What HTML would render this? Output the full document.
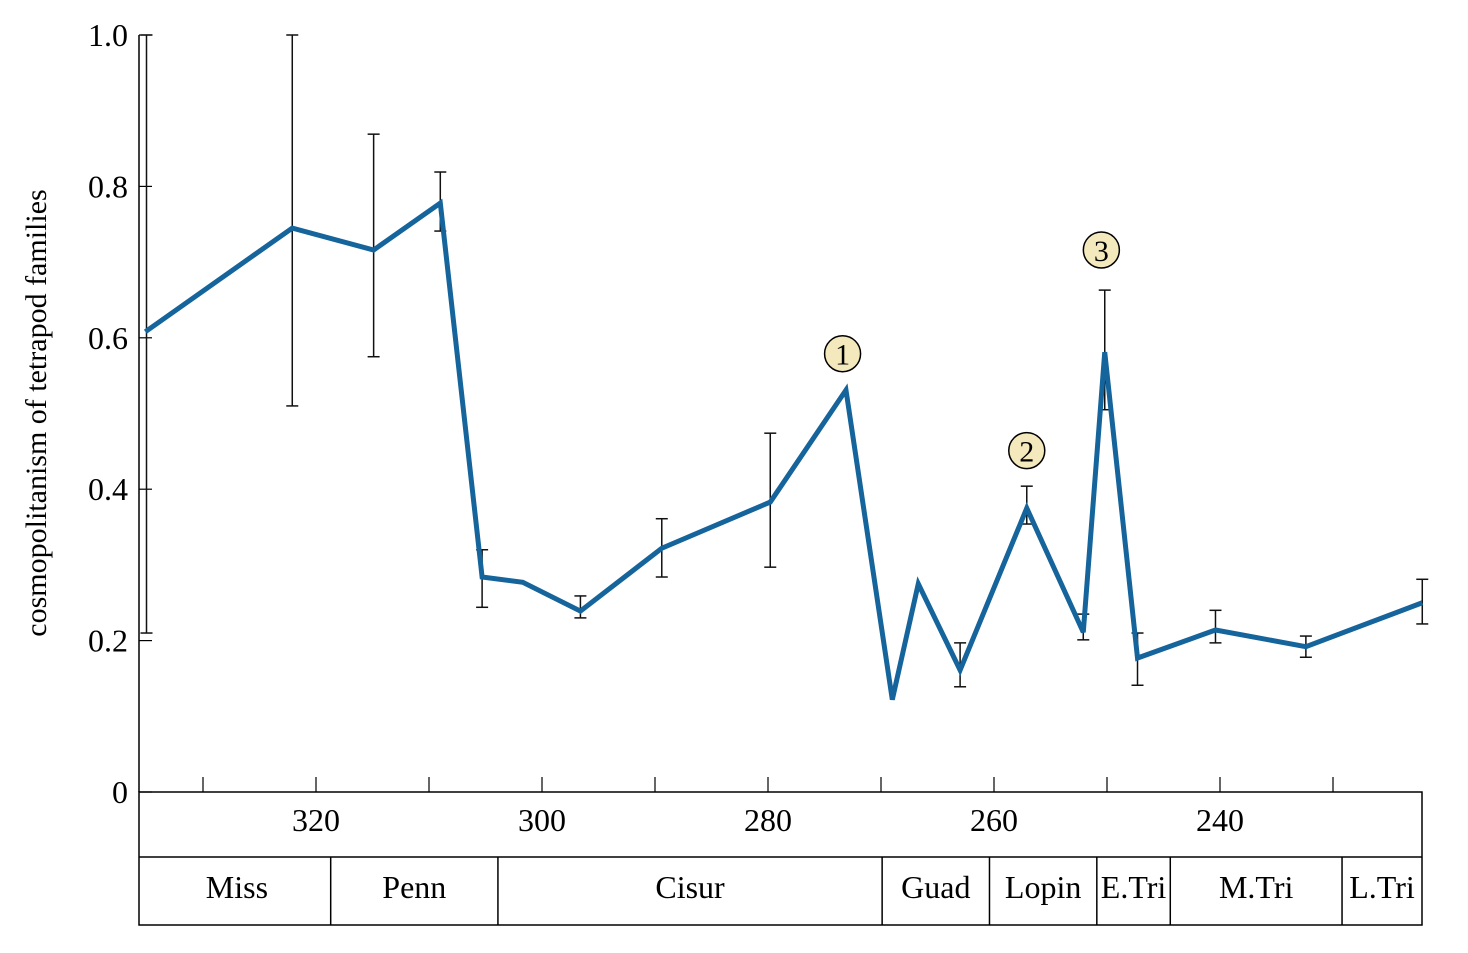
<!DOCTYPE html>
<html><head><meta charset="utf-8"><style>
html,body{margin:0;padding:0;background:#fff;}
svg{display:block;font-family:"Liberation Serif",serif;}
</style></head><body>
<svg id="chart" width="1468" height="953" viewBox="0 0 1468 953">
<g id="axes"></g><g id="bars"></g><g id="series"></g><g id="notes"></g>
</svg>
<script>
const ages=[335.1,322.1,314.9,309.0,305.3,301.7,296.6,289.4,279.8,273.1,269.0,266.7,263.0,257.1,252.1,250.2,247.3,240.4,232.4,222.1];
const values=[0.608,0.745,0.716,0.778,0.284,0.277,0.239,0.322,0.383,0.531,0.122,0.275,0.161,0.375,0.211,0.581,0.177,0.214,0.192,0.250];
const errAges=[335.0,322.1,314.9,309.0,305.3,296.6,289.4,279.8,263.0,257.1,252.1,250.2,247.3,240.4,232.4,222.1];
const errLow=[0.21,0.51,0.575,0.741,0.244,0.230,0.284,0.297,0.139,0.354,0.201,0.505,0.141,0.197,0.178,0.222];
const errHigh=[1.0,1.0,0.869,0.819,0.320,0.259,0.361,0.474,0.197,0.404,0.235,0.663,0.210,0.240,0.206,0.281];
const xTicks=[330,320,310,300,290,280,270,260,250,240,230];
const xLabels=[320,300,280,260,240];
const yTicks=[0,0.2,0.4,0.6,0.8,1.0];
const yTickLabels=["0","0.2","0.4","0.6","0.8","1.0"];
const periodNames=["Miss","Penn","Cisur","Guad","Lopin","E.Tri","M.Tri","L.Tri"];
const periodBounds=[335.3,318.7,303.9,269.9,260.4,250.9,244.4,229.2,222.1];
const noteLabels=["1","2","3"];
const noteAges=[273.4,257.1,250.5];
const noteValues=[0.579,0.451,0.716];
const X=a=>316+(320-a)*11.3;
const Y=v=>792-v*757;
const NS="http://www.w3.org/2000/svg";
function mk(p,t,at,txt){const e=document.createElementNS(NS,t);for(const k in at)e.setAttribute(k,at[k]);if(txt!=null)e.textContent=txt;p.appendChild(e);return e;}
const ax=document.getElementById('axes');
let e=mk(ax,'line',{x1:139,y1:35,x2:139,y2:792,stroke:'#000','stroke-width':1.5});

yTicks.forEach((v,i)=>{
 let t=mk(ax,'line',{x1:139,y1:Y(v),x2:152,y2:Y(v),stroke:'#000','stroke-width':1.2});
 
 let l=mk(ax,'text',{x:128,y:Y(v)+11,'text-anchor':'end','font-size':32},yTickLabels[i]);
 
});
e=mk(ax,'text',{x:46,y:413,'text-anchor':'middle','font-size':30,transform:'rotate(-90 46 413)'},'cosmopolitanism of tetrapod families');

e=mk(ax,'rect',{x:139,y:792,width:1283,height:133,fill:'none',stroke:'#000','stroke-width':1.5});

e=mk(ax,'line',{x1:139,y1:857,x2:1422,y2:857,stroke:'#000','stroke-width':1.5});

xTicks.forEach(a=>{
 let t=mk(ax,'line',{x1:X(a),y1:777,x2:X(a),y2:792,stroke:'#000','stroke-width':1.2});
 
});
xLabels.forEach(a=>{
 let l=mk(ax,'text',{x:X(a),y:831,'text-anchor':'middle','font-size':32},String(a));
 
});
periodNames.forEach((n,i)=>{
 const x0=Math.max(139,X(periodBounds[i])),x1=Math.min(1422,X(periodBounds[i+1]));
 if(i>0){let d=mk(ax,'line',{x1:x0,y1:857,x2:x0,y2:925,stroke:'#000','stroke-width':1.5});
  }
 let l=mk(ax,'text',{x:(x0+x1)/2,y:898,'text-anchor':'middle','font-size':32},n);
 
});
const bg=document.getElementById('bars');
errAges.forEach((a,i)=>{
 const x=X(a),y1=Y(errHigh[i]),y2=Y(errLow[i]);
 let g=mk(bg,'g',{stroke:'#111','stroke-width':1.5});
 
 mk(g,'line',{x1:x,y1:y1,x2:x,y2:y2});
 mk(g,'line',{x1:x-6,y1:y1,x2:x+6,y2:y1});
 mk(g,'line',{x1:x-6,y1:y2,x2:x+6,y2:y2});
});
const sg=document.getElementById('series');
e=mk(sg,'polyline',{points:ages.map((a,i)=>X(a)+','+Y(values[i])).join(' '),fill:'none',stroke:'#15649b','stroke-width':5,'stroke-linejoin':'miter'});

const ng=document.getElementById('notes');
noteLabels.forEach((n,i)=>{
 let g=mk(ng,'g',{});
 
 mk(g,'circle',{cx:X(noteAges[i]),cy:Y(noteValues[i]),r:18,fill:'#f4e8bd',stroke:'#000','stroke-width':1.5});
 mk(g,'text',{x:X(noteAges[i]),y:Y(noteValues[i])+11,'text-anchor':'middle','font-size':30},n);
});
</script>
</body></html>
